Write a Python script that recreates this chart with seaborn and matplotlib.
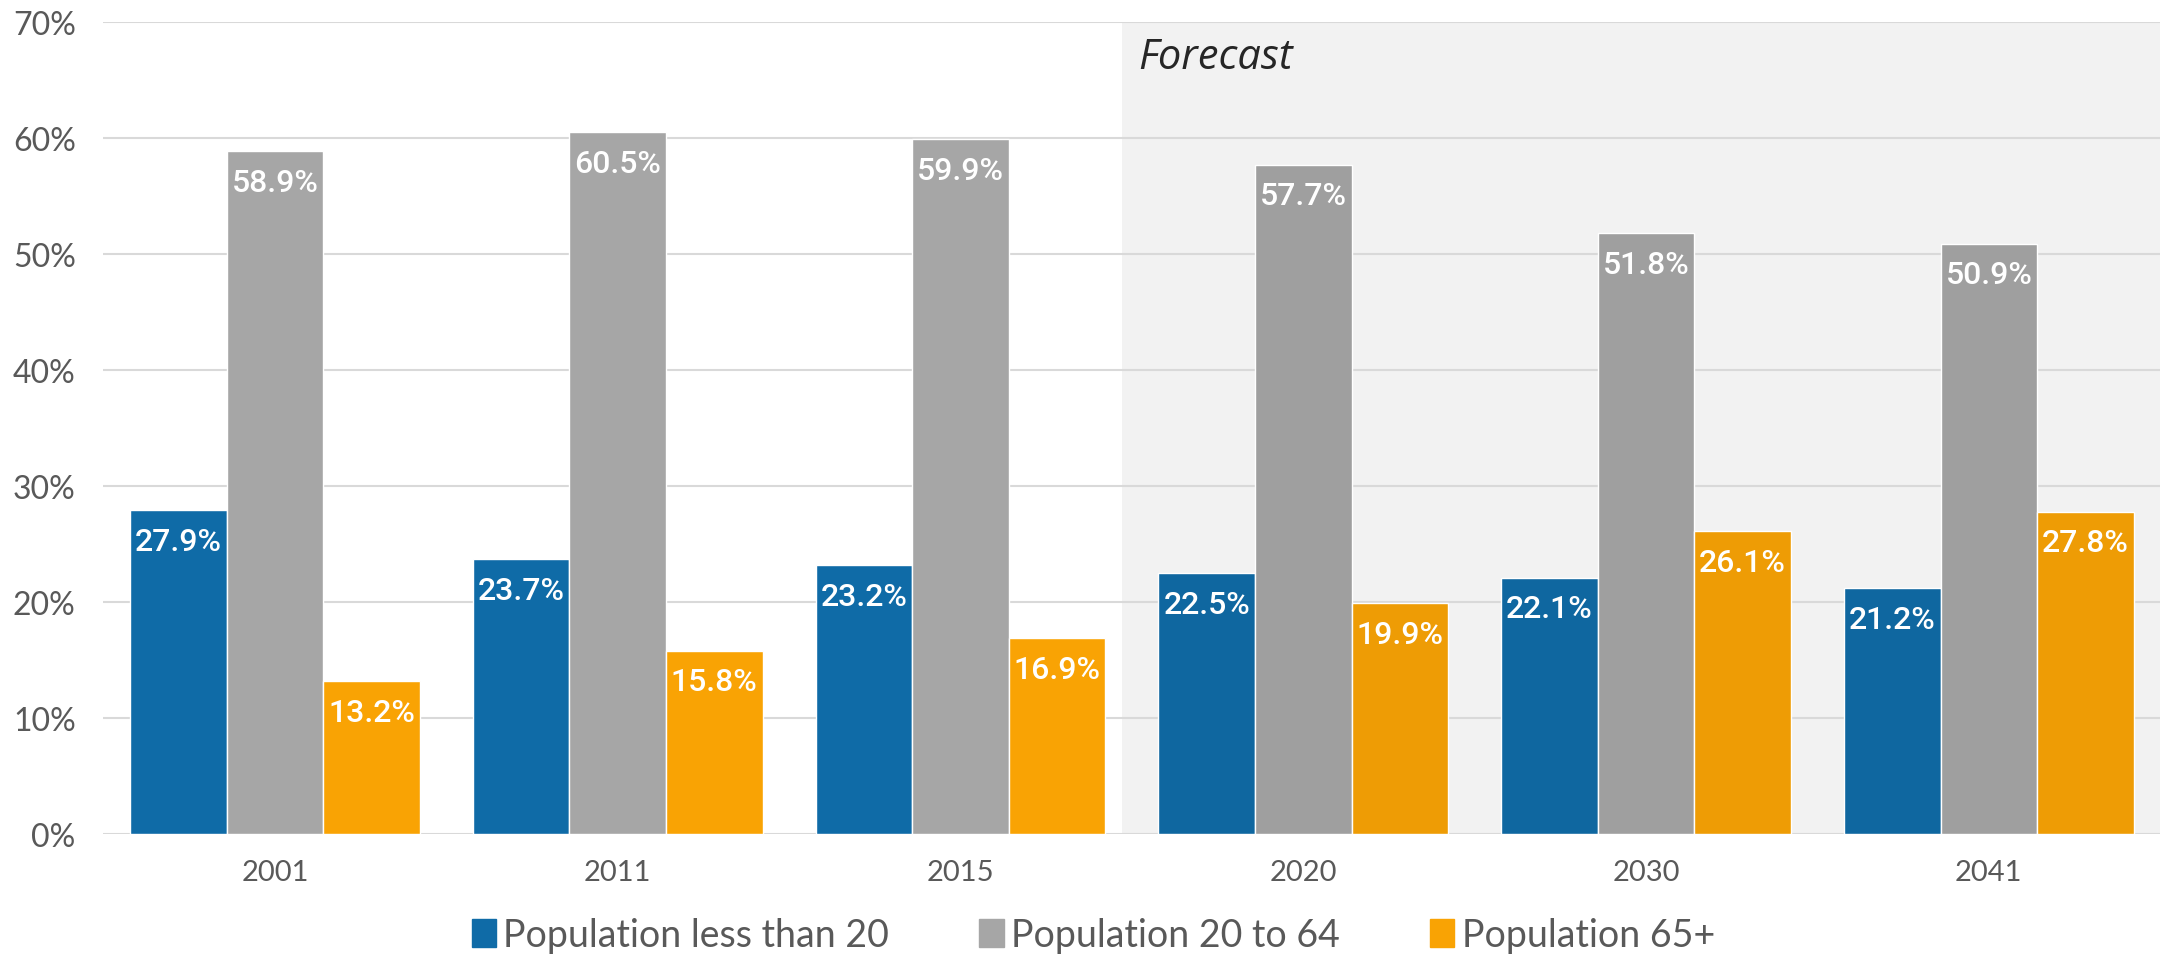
import matplotlib
matplotlib.use('Agg')
import matplotlib.pyplot as plt
import pandas as pd
import seaborn as sns
from matplotlib.ticker import PercentFormatter
from matplotlib.patches import Patch

# %% data
years = ['2001', '2011', '2015', '2020', '2030', '2041']
under_20 = [27.9, 23.7, 23.2, 22.5, 22.1, 21.2]
age_20_64 = [58.9, 60.5, 59.9, 57.7, 51.8, 50.9]
over_65 = [13.2, 15.8, 16.9, 19.9, 26.1, 27.8]
groups = ['Population less than 20', 'Population 20 to 64', 'Population 65+']
n_actual = 3  # first 3 years are actual, rest forecast

colors = ['#0F6BA7', '#A6A6A6', '#F9A304']
colors_fc = ['#0F67A0', '#9F9F9F', '#EE9C05']

df = pd.DataFrame({
    'year': years * 3,
    'group': [groups[0]] * 6 + [groups[1]] * 6 + [groups[2]] * 6,
    'value': under_20 + age_20_64 + over_65,
})

# %% plot
sns.set_style('white')
plt.rcParams['font.family'] = ['Lato', 'DejaVu Sans']

fig = plt.figure(figsize=(21.65, 9.62), dpi=100)
ax = fig.add_axes([0.0478, 0.132, 0.950, 0.844])

ax.axvspan(n_actual - 0.53, len(years) - 0.5, color='#F2F2F2', zorder=0, lw=0)

sns.barplot(data=df, x='year', y='value', hue='group', order=years, hue_order=groups,
            palette=colors, width=0.845, gap=0, saturation=1, ax=ax, legend=False, zorder=2)

for i, cont in enumerate(ax.containers):
    for j, bar in enumerate(cont):
        if j >= n_actual:
            bar.set_facecolor(colors_fc[i])
        h = bar.get_height()
        ax.annotate(f'{h:.1f}%', (bar.get_x() + bar.get_width() / 2, h),
                    xytext=(0, -12), textcoords='offset points', ha='center', va='top',
                    color='white', fontsize=23, fontweight='medium',
                    family=['Roboto', 'DejaVu Sans'], zorder=3)

ax.set_ylim(0, 70)
ax.set_xlim(-0.5, len(years) - 0.5)
ax.yaxis.set_major_formatter(PercentFormatter(decimals=0))
ax.set_yticks(range(0, 71, 10))
ax.grid(axis='y', color='#D9D9D9', lw=1.5, zorder=1)
ax.set_axisbelow(True)
for s in ax.spines.values():
    s.set_visible(False)
ax.set_xlabel('')
ax.set_ylabel('')
ax.tick_params(axis='y', labelsize=23, colors='#595959', length=0, pad=20)
ax.tick_params(axis='x', labelsize=21, colors='#595959', length=0, pad=18)

ax.text(n_actual - 0.48, 67, 'Forecast', fontsize=30, style='italic', color='#262626',
        ha='left', va='center', family=['Open Sans', 'DejaVu Sans'])

handles = [Patch(color=c) for c in colors]
fig.legend(handles, groups, loc='lower center', bbox_to_anchor=(0.505, -0.027), ncol=3,
           frameon=False, fontsize=27, handlelength=0.65, handleheight=0.75,
           handletextpad=0.2, columnspacing=2.4, labelcolor='#595959')

fig.savefig('out.png', dpi=100)
